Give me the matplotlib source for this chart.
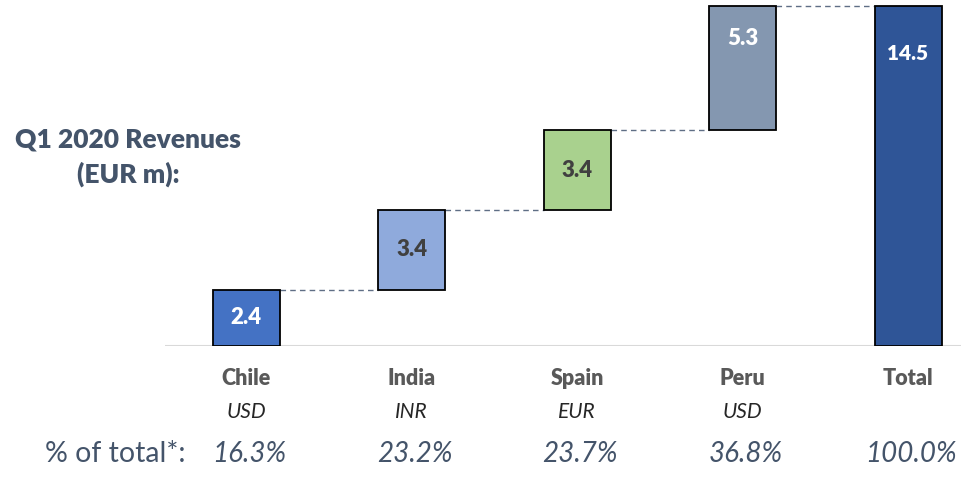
import matplotlib.pyplot as plt
import numpy as np

plt.rcParams['font.family'] = ['Lato', 'DejaVu Sans']

# data
countries = ['Chile', 'India', 'Spain', 'Peru', 'Total']
currencies = ['USD', 'INR', 'EUR', 'USD', '']
values = [2.4, 3.4, 3.4, 5.3, 14.5]
shares = ['16.3%', '23.2%', '23.7%', '36.8%', '100.0%']

colors = ['#4472C4', '#8FAADC', '#A9D18E', '#8497B0', '#2F5597']
label_colors = ['white', '#404040', '#404040', 'white', 'white']

# bottoms of the floating bars, total sits on zero
bottoms = list(np.cumsum([0] + values[:3])) + [0]
x = np.arange(len(countries))
width = 0.405

fig = plt.figure(figsize=(9.61, 4.84), dpi=100, facecolor='white')
ax = fig.add_axes([165 / 961, 138 / 484, 796 / 961, 346 / 484])

ax.bar(x, values, width, bottom=bottoms, color=colors,
       edgecolor='black', linewidth=1.3, zorder=3)

# dashed connectors between bar tops
for i in range(len(x) - 1):
    top = bottoms[i] + values[i]
    ax.plot([x[i] + width / 2, x[i + 1] - width / 2], [top, top],
            ls=(0, (4, 3)), color='#5F6E85', lw=1, zorder=2)

# value labels (Peru / Total sit near the top of the bar)
label_pos = [0.5, 0.5, 0.5, 0.74, 0.86]
label_size = [16, 16, 16, 16, 15]
for i, v in enumerate(values):
    ax.text(x[i], bottoms[i] + v * label_pos[i], f'{v:.1f}', ha='center', va='center',
            fontsize=label_size[i], fontweight='heavy', color=label_colors[i], zorder=4)

ax.axhline(0, color='#D9D9D9', lw=1.5, zorder=1)
ax.set_xlim(-0.49, 4.32)
ax.set_ylim(0, 346 / 23.45)
ax.axis('off')

# rows beneath the axis
for i, name in enumerate(countries):
    ax.text(x[i], -1.4, name, ha='center', va='center', fontsize=15.5,
            fontweight='heavy', color='#595959')
    ax.text(x[i], -2.8, currencies[i], ha='center', va='center', fontsize=15,
            style='italic', color='#262626')
    ax.text(x[i] + 0.02, -4.6, shares[i], ha='center', va='center', fontsize=20,
            style='italic', color='#44546A')

fig.text(115 / 961, 1 - 454 / 484, '% of total*:', ha='center', va='center',
         fontsize=20.5, color='#44546A')
fig.text(128 / 961, 1 - 157 / 484, 'Q1 2020 Revenues\n(EUR m):', ha='center',
         va='center', fontsize=19, fontweight='heavy', color='#44546A',
         linespacing=1.45)

fig.savefig('out.png', dpi=100, facecolor='white')
